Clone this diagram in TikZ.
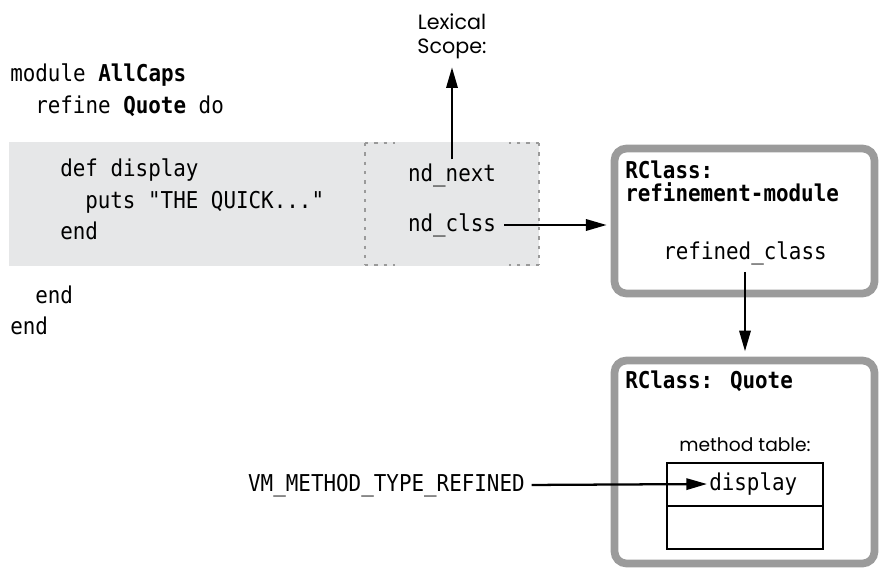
\documentclass[tikz,border=0pt]{standalone}
\usepackage{fontspec}
\usetikzlibrary{arrows.meta}
\newfontfamily\codefont[FakeStretch=0.9]{DejaVu Sans Mono}
\newfontfamily\labelfont{Poppins}
\definecolor{codebg}{HTML}{E6E7E8}
\definecolor{boxgray}{HTML}{9B9B9B}
\definecolor{dotgray}{HTML}{9A9A9A}
\begin{document}
\begin{tikzpicture}[x=0.75pt,y=-0.75pt,
  code/.style={font=\codefont\fontsize{17.4}{20}\selectfont, inner sep=0pt, text height=12pt, text depth=3pt},
  codebold/.style={code, font=\codefont\bfseries\fontsize{17.4}{20}\selectfont},
  lbl/.style={font=\labelfont\fontsize{15.5}{18}\selectfont, inner sep=0pt},
  arr/.style={line width=1.7pt, -{Triangle[length=15.5pt,width=8.5pt]}},
  rbox/.style={draw=boxgray, line width=5.8pt, rounded corners=9pt, minimum width=195pt, inner sep=0pt},
  cell/.style={draw=black, line width=1.5pt, minimum width=117pt, minimum height=32.25pt, inner sep=0pt},
  dotline/.style={draw=dotgray, line width=1.6pt, dash pattern=on 2.5pt off 4.5pt}
]
\useasboundingbox (0,0) rectangle (879,568);

% code background
\node (codebox) [fill=codebg, minimum width=397.5pt, minimum height=93pt, inner sep=0pt, anchor=north west] at (9,142) {};

% dotted frame
\coordinate (d1) at (365,143);
\coordinate (d2) at (539,143);
\coordinate (d3) at (539,265);
\coordinate (d4) at (365,265);
\draw[dotline] (d1) -- (d4);
\draw[dotline] (d2) -- (d3);
\draw[dotline] (d1) -- ++(30,0);
\draw[dotline] (d2) -- ++(-30,0);
\draw[dotline] (d4) -- ++(30,0);
\draw[dotline] (d3) -- ++(-30,0);

% code lines
\node[code, anchor=west] (l1) at (10,75) {module \textbf{AllCaps}};
\node[code, anchor=west] (l2) at (35,107) {refine \textbf{Quote} do};
\node[code, anchor=west] (l3) at (60,170) {def display};
\node[code, anchor=west] (l4) at (85,202) {puts "THE QUICK..."};
\node[code, anchor=west] (l5) at (60,233) {end};
\node[code, anchor=west] (l6) at (35,297) {end};
\node[code, anchor=west] (l7) at (10,328) {end};

% lexical scope
\node[lbl, anchor=base] (lex1) at (452,29) {Lexical};
\node[lbl, anchor=base] (lex2) at (452,53) {Scope:};
\node[code] (nn) at (452,175) {nd\_next};
\node[code] (nc) at (452,225) {nd\_clss};

% refinement module box
\node[rbox, minimum height=108.75pt] (rm) at (744.5,221) {};
\node[codebold, anchor=west] (rc1) at (625,172) {RClass:};
\node[codebold, anchor=west] (rc2) at (625,195) {refinement-module};
\node[code] (rf) at (745,253) {refined\_class};

% Quote box
\node[rbox, minimum height=152.25pt] (q) at (744.5,462) {};
\node[codebold, anchor=west] (rq) at (625,382) {RClass: Quote};
\node[lbl, font=\labelfont\fontsize{14}{18}\selectfont] (mt) at (745,445) {method table:};
\node[cell] (row1) at (745,484.5) {};
\node[cell] (row2) at (745,527.5) {};
\node[code, anchor=west] (dp) at (709,484) {display};

\node[code, anchor=east] (vm) at (525,485) {VM\_METHOD\_TYPE\_REFINED};

% connectors
\draw[arr, shorten <=4pt, shorten >=6.5pt] (nn.north) -- (nn.north |- lex2.south);
\draw[arr, shorten <=6pt, shorten >=3pt] (nc.east) -- (nc.east -| rm.west);
\draw[arr, shorten <=6.5pt, shorten >=4pt] (rf.south) -- (rf.south |- q.north);
\draw[arr, shorten <=5pt, shorten >=1.5pt] (vm.east) -- (dp.west);
\end{tikzpicture}
\end{document}
